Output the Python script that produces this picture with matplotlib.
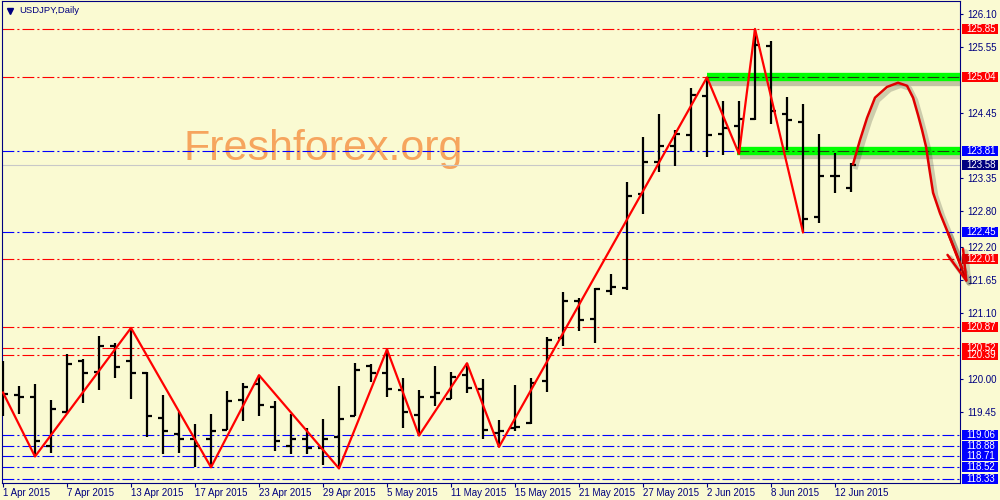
import matplotlib.pyplot as plt
import matplotlib.patheffects as pe
import matplotlib.transforms as mtransforms
import numpy as np
import pandas as pd

plt.rcParams['font.family'] = ['Liberation Sans', 'DejaVu Sans']
plt.rcParams['lines.scale_dashes'] = False

# daily USDJPY bars, 1 Apr - 15 Jun 2015
days = pd.bdate_range('2015-04-01', '2015-06-15')

opens = [119.73, 119.73, 119.70, 118.88, 119.45, 120.29, 120.12, 120.55, 120.29, 120.09,
         119.35, 119.08, 119.00, 118.99, 119.14, 119.65, 119.91, 119.53, 118.88, 118.99,
         118.84, 119.02, 119.37, 120.21, 120.09, 119.81, 119.39, 119.70, 119.67, 120.06,
         119.83, 119.10, 119.17, 119.26, 119.97, 120.69, 121.30, 121.00, 121.47, 121.52,
         123.09, 123.63, 123.90, 124.08, 124.73, 124.09, 124.22, 124.34, 125.56, 124.43,
         124.30, 122.71, 123.39, 123.19]
highs = [120.30, 119.88, 119.91, 119.65, 120.41, 120.33, 120.72, 120.59, 120.85, 120.12,
         119.73, 119.45, 119.24, 119.41, 119.80, 119.93, 120.06, 119.63, 119.41, 119.17,
         119.33, 119.88, 120.26, 120.25, 120.49, 120.01, 119.82, 120.21, 120.11, 120.26,
         119.99, 119.31, 119.90, 120.01, 120.70, 121.45, 121.35, 121.52, 121.75, 123.29,
         124.04, 124.42, 124.16, 124.87, 125.04, 124.65, 124.65, 125.85, 125.65, 124.71,
         124.60, 124.10, 123.78, 123.60]
lows = [119.38, 119.41, 118.70, 118.76, 119.41, 119.60, 119.81, 120.02, 119.67, 119.03,
        118.75, 118.76, 118.53, 118.52, 119.14, 119.30, 119.38, 118.80, 118.74, 118.75,
        118.56, 118.50, 119.37, 119.95, 119.69, 119.17, 119.05, 119.54, 119.66, 119.76,
        119.00, 118.86, 119.12, 119.24, 119.78, 120.54, 120.80, 120.60, 121.40, 121.48,
        122.75, 123.46, 123.56, 123.81, 123.71, 123.75, 123.76, 124.33, 124.26, 123.83,
        122.45, 122.60, 123.10, 123.13]
closes = [119.74, 119.70, 118.96, 119.49, 120.24, 120.10, 120.54, 120.20, 120.10, 119.38,
          119.12, 118.99, 118.88, 119.13, 119.62, 119.87, 119.56, 118.96, 118.99, 118.85,
          118.99, 119.33, 120.14, 120.10, 119.83, 119.45, 119.70, 119.77, 120.03, 119.85,
          119.14, 119.13, 119.20, 119.93, 120.65, 121.30, 120.98, 121.50, 121.53, 123.06,
          123.63, 123.89, 124.09, 124.75, 124.08, 124.19, 124.34, 125.58, 124.47, 124.32,
          122.67, 123.39, 123.39, 123.58]

# zigzag turning points (bar index, price)
zz_bars = [0, 2, 8, 13, 16, 21, 24, 26, 29, 31, 44, 46, 47, 50]
zz_prices = [119.77, 118.70, 120.85, 118.52, 120.06, 118.50, 120.49, 119.05, 120.26,
             118.86, 125.04, 123.76, 125.85, 122.45]

red_levels = [125.85, 125.04, 122.01, 120.87, 120.52, 120.39]
blue_levels = [123.81, 122.45, 119.06, 118.88, 118.71, 118.52, 118.33]
bid = 123.58
zone_levels = [125.04, 123.81]
zone_start = [44, 45.9]

ytick_vals = [126.10, 125.55, 124.45, 123.35, 122.80, 122.20, 121.65,
              121.10, 120.00, 119.45]

# hand drawn forecast curve
curve_x = [53.13, 53.56, 54.0, 54.5, 55.25, 55.94, 56.5, 56.88, 57.19, 57.44, 57.69,
           57.88, 58.13, 58.56, 59.06, 59.5, 59.94]
curve_y = [123.59, 123.99, 124.36, 124.70, 124.88, 124.95, 124.90, 124.70, 124.41,
           124.16, 123.88, 123.54, 123.11, 122.77, 122.44, 122.15, 121.85]
arrow_tip = (60.31, 121.57)

bg = '#FAFAD2'
navy = '#000080'

fig = plt.figure(figsize=(10, 5), dpi=100, facecolor=bg)
ax = fig.add_axes([0.002, 0.034, 0.958, 0.964], facecolor=bg)
ax.set_xlim(-0.0625, 59.8125)
ax.set_ylim(118.257, 126.317)

x = np.arange(len(days))

# level lines
dash = (0, (8.5, 2.2, 1.5, 2.2))
for lv in red_levels:
    ax.axhline(lv, color='#FF0000', lw=0.8, linestyle=dash, zorder=1)
for lv in blue_levels:
    ax.axhline(lv, color='#0000FF', lw=0.8, linestyle=dash, zorder=1)
ax.axhline(bid, color='#C8C8C8', lw=0.8, zorder=1)

# green zones
for lv, st in zip(zone_levels, zone_start):
    ax.plot([st, 60], [lv, lv], color='#00FF00', lw=6, solid_capstyle='butt', zorder=2,
            path_effects=[pe.SimpleLineShadow(offset=(2, -3), shadow_color='k', alpha=0.22),
                          pe.Normal()])
    ax.plot([st, 60], [lv, lv], color='#204010', lw=0.8, linestyle=dash, zorder=2.5)

# OHLC bars
ax.vlines(x, lows, highs, color='black', lw=1.6, zorder=3)
ax.hlines(opens, x - 0.32, x, color='black', lw=1.6, zorder=3)
ax.hlines(closes, x, x + 0.32, color='black', lw=1.6, zorder=3)

# zigzag
ax.plot(zz_bars, zz_prices, color='#FF0000', lw=1.6, zorder=4)

# forecast curve
shadow = [pe.SimpleLineShadow(offset=(2, -2), shadow_color='k', alpha=0.18, linewidth=3.5),
          pe.Normal()]
ax.plot(curve_x, curve_y, color='#E00000', lw=1.8, zorder=12, clip_on=False,
        path_effects=shadow)
arr = ax.annotate('', xy=arrow_tip, xytext=(curve_x[-3], curve_y[-3]), annotation_clip=False,
                  arrowprops=dict(arrowstyle='->,head_length=2.2,head_width=0.6',
                                  color='#E00000', lw=1.8, shrinkA=0, shrinkB=0,
                                  path_effects=shadow), zorder=12)
arr.arrow_patch.set_clip_on(False)

# watermark and title
ax.text(0.189, 0.670, 'Freshforex.org', transform=ax.transAxes, fontsize=31,
        color='#F6A55E', va='baseline', ha='left', zorder=0.5)
ax.plot([0.0084], [0.979], marker='v', color=navy, markersize=4, transform=ax.transAxes)
ax.text(0.0177, 0.981, 'USDJPY,Daily', transform=ax.transAxes, fontsize=6.8,
        color=navy, va='center', ha='left')

# axes styling
for s in ax.spines.values():
    s.set_color(navy)
    s.set_linewidth(0.8)
ax.yaxis.tick_right()
ax.set_yticks(ytick_vals, [f'{v:.2f}' for v in ytick_vals])
ax.tick_params(axis='y', colors=navy, length=2.5, width=0.8, pad=2.5, labelsize=7)

tick_idx = list(range(0, len(days), 4))
ax.set_xticks(tick_idx, [f'{days[i].day} {days[i].strftime("%b %Y")}' for i in tick_idx])
ax.tick_params(axis='x', colors=navy, length=3, width=0.8, pad=0.5, labelsize=7)
for lbl in ax.get_xticklabels():
    lbl.set_ha('left')

# price label boxes on the right scale
trans = mtransforms.blended_transform_factory(ax.transAxes, ax.transData)
box_w = 36 / 958
box_h = 10 / 59.8
labels = [(lv, '#FF0000') for lv in red_levels] + [(lv, '#0000FF') for lv in blue_levels]
labels.append((bid, navy))
for lv, col in labels:
    ax.add_patch(plt.Rectangle((1.0021, lv - box_h / 2), box_w, box_h, transform=trans,
                               facecolor=col, edgecolor='none', clip_on=False, zorder=10))
    ax.text(1.0063, lv, f'{lv:.2f}', transform=trans, color='white', fontsize=7,
            va='center', ha='left', zorder=11, clip_on=False)

fig.savefig('out.png', dpi=100, facecolor=bg)
